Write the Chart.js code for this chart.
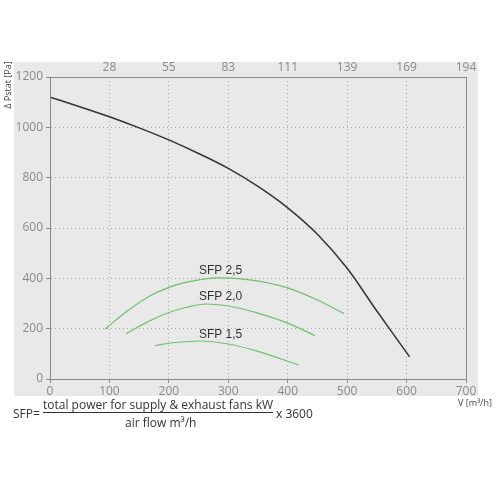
<!DOCTYPE html>
<html>
<head>
<meta charset="utf-8">
<script src="https://cdn.jsdelivr.net/npm/chart.js"></script>
<style>
  body { margin: 0; background: #fff; }
  #wrap { position: relative; width: 500px; height: 500px; }
  #fan-chart { position: absolute; left: 0; top: 0; }
  .f { position: absolute; font-family: "Open Sans", sans-serif; font-size: 12px; color: #333; white-space: nowrap; line-height: 14px; }
  #num { border-bottom: 1px solid #333; }
</style>
</head>
<body>
<div id="wrap">
  <canvas id="fan-chart" width="500" height="500"></canvas>
  <div class="f" style="left:13px; top:407px;">SFP=</div>
  <div class="f" id="num" style="left:43px; top:398px;">total power for supply &amp; exhaust fans kW</div>
  <div class="f" style="left:125px; top:416px;">air flow m³/h</div>
  <div class="f" style="left:276px; top:407px;">x 3600</div>
</div>
<script>
// airflow axis (m3/h) and top axis labels (l/s)
const topLabels = ['28', '55', '83', '111', '139', '169', '194'];

// fan curve
const fanFlow = [0, 50, 100, 150, 200, 250, 300, 350, 400, 450, 500, 550, 600, 605];
const fanPressure = [1120, 1082, 1042, 998, 950, 896, 837, 765, 680, 575, 440, 270, 105, 88];

// SFP curves
const sfp25Flow = [93, 130, 168, 200, 230, 285, 340, 400, 450, 495];
const sfp25Pressure = [199, 270, 330, 364, 385, 402, 393, 362, 314, 260];
const sfp20Flow = [128, 165, 200, 230, 262, 300, 350, 400, 446];
const sfp20Pressure = [180, 228, 264, 285, 298, 290, 262, 222, 172];
const sfp15Flow = [177, 210, 253, 300, 350, 418];
const sfp15Pressure = [133, 145, 151, 139, 110, 56];

const sfpNames = ['SFP 2,5', 'SFP 2,0', 'SFP 1,5'];
const labelAnchors = [[287, 430], [287, 327], [287, 175]];

const green = '#6cc36a';
const axisGray = '#8a8a8a';
const tickFont = { family: 'Open Sans', size: 12 };

function pts(xs, ys) {
  return xs.map((x, i) => ({ x: x, y: ys[i] }));
}

const decor = {
  id: 'decor',
  beforeDraw(chart) {
    const ctx = chart.ctx;
    ctx.save();
    ctx.fillStyle = '#e9e9e9';
    ctx.fillRect(14, 62, 464, 334);
    ctx.restore();
  },
  afterDraw(chart) {
    const ctx = chart.ctx;
    const a = chart.chartArea;
    const x = chart.scales.x, y = chart.scales.y;
    ctx.save();
    // right border
    ctx.strokeStyle = axisGray;
    ctx.lineWidth = 1;
    ctx.beginPath();
    ctx.moveTo(a.right + 0.5, a.top);
    ctx.lineTo(a.right + 0.5, a.bottom);
    ctx.stroke();
    // curve labels
    ctx.fillStyle = '#333';
    ctx.font = '12px "Liberation Sans", Arial, sans-serif';
    ctx.textAlign = 'center';
    ctx.textBaseline = 'middle';
    sfpNames.forEach((n, i) => {
      ctx.fillText(n, x.getPixelForValue(labelAnchors[i][0]), y.getPixelForValue(labelAnchors[i][1]));
    });
    // axis titles
    ctx.fillStyle = '#444';
    ctx.font = '9px "Open Sans", sans-serif';
    ctx.textAlign = 'left';
    ctx.fillText('V [m³/h]', 458, 403);
    ctx.translate(8, 85);
    ctx.rotate(-Math.PI / 2);
    ctx.textAlign = 'center';
    ctx.fillText('Δ Pstat [Pa]', 0, 0);
    ctx.restore();
  }
};

const lineStyle = { showLine: true, pointRadius: 0, cubicInterpolationMode: 'monotone', fill: false };

new Chart(document.getElementById('fan-chart'), {
  type: 'scatter',
  data: {
    datasets: [
      Object.assign({ data: pts(fanFlow, fanPressure), borderColor: '#333', borderWidth: 1.5 }, lineStyle),
      Object.assign({ data: pts(sfp25Flow, sfp25Pressure), borderColor: green, borderWidth: 1.2 }, lineStyle),
      Object.assign({ data: pts(sfp20Flow, sfp20Pressure), borderColor: green, borderWidth: 1.2 }, lineStyle),
      Object.assign({ data: pts(sfp15Flow, sfp15Pressure), borderColor: green, borderWidth: 1.2 }, lineStyle)
    ]
  },
  options: {
    responsive: false,
    animation: false,
    layout: { padding: { right: 34, left: 0, top: 0, bottom: 0 } },
    plugins: { legend: { display: false }, tooltip: { enabled: false } },
    scales: {
      x: {
        type: 'linear', position: 'bottom', min: 0, max: 700,
        ticks: { stepSize: 100, color: axisGray, font: tickFont, padding: 1 },
        grid: { color: '#a8a8a8', tickLength: 4, tickColor: axisGray },
        border: { color: axisGray, dash: [1, 3], z: 1 },
        afterFit(s) { s.height = 121; }
      },
      x2: {
        type: 'linear', position: 'top', min: 0, max: 700,
        ticks: {
          stepSize: 100, color: axisGray, font: tickFont, padding: 2,
          callback: (v) => v === 0 ? '' : topLabels[v / 100 - 1]
        },
        grid: { drawOnChartArea: false, drawTicks: false },
        border: { color: axisGray, z: 1 },
        afterFit(s) { s.height = 77; }
      },
      y: {
        min: 0, max: 1200,
        ticks: { stepSize: 200, color: axisGray, font: tickFont, padding: 3, callback: (v) => String(v) },
        grid: { color: '#a8a8a8', tickLength: 4, tickColor: axisGray },
        border: { color: axisGray, dash: [1, 3], z: 1 },
        afterFit(s) { s.width = 50; }
      }
    }
  },
  plugins: [decor]
});
</script>
</body>
</html>
